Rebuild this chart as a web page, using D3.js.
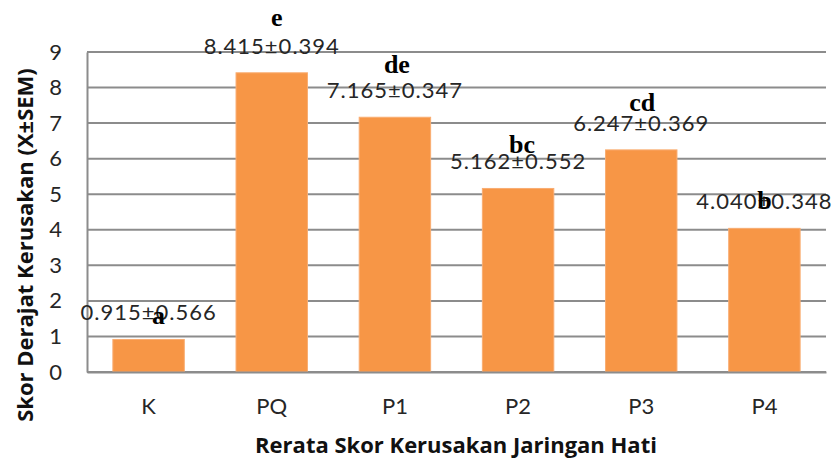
<!DOCTYPE html>
<html>
<head>
<meta charset="utf-8">
<script src="https://cdn.jsdelivr.net/npm/d3@7"></script>
<style>
  body { margin: 0; background: #fff; }
  svg { display: block; }
</style>
</head>
<body>
<div id="chart"></div>
<script>
// data
var groups = ["K", "PQ", "P1", "P2", "P3", "P4"];
var means = [0.915, 8.415, 7.165, 5.162, 6.247, 4.040];
var sems = [0.566, 0.394, 0.347, 0.552, 0.369, 0.348];
var letters = ["a", "e", "de", "bc", "cd", "b"];
var yTicks = [0, 1, 2, 3, 4, 5, 6, 7, 8, 9];

// where the significance letters sit relative to the value label (px)
var letterShift = [[10, 4], [5, -28], [2, -25], [4, -16], [1, -20], [0, 0]];

var W = 837, H = 461;
var margin = {top: 52, right: 11, bottom: 89, left: 87};
var width = W - margin.left - margin.right,
    height = H - margin.top - margin.bottom;

var svg = d3.select("#chart").append("svg")
  .attr("width", W)
  .attr("height", H);

var g = svg.append("g")
  .attr("transform", "translate(" + margin.left + "," + margin.top + ")");

var x = d3.scaleBand()
  .domain(groups)
  .range([0, width])
  .paddingInner(0.42)
  .paddingOuter(0.21);

var y = d3.scaleLinear()
  .domain([0, 9])
  .range([height, 0]);

// gridlines
g.selectAll("line.grid")
  .data(yTicks)
  .enter()
  .append("line")
    .attr("class", "grid")
    .attr("x1", 0)
    .attr("x2", width)
    .attr("y1", d => y(d))
    .attr("y2", d => y(d))
    .attr("stroke", "#8c8c8c")
    .attr("stroke-width", 2);

// y axis
var yAxis = g.append("g")
  .call(d3.axisLeft(y).tickValues(yTicks).tickSize(0).tickPadding(25));
yAxis.select(".domain").attr("stroke", "#8c8c8c").attr("stroke-width", 2);
yAxis.selectAll("text")
  .attr("font-family", "Lato, 'Open Sans', sans-serif")
  .attr("font-size", 22)
  .attr("fill", "#262626");

// bars
g.selectAll("rect")
  .data(groups)
  .enter()
  .append("rect")
    .attr("x", d => x(d))
    .attr("y", (d, i) => y(means[i]))
    .attr("width", x.bandwidth())
    .attr("height", (d, i) => height - y(means[i]))
    .attr("fill", "#f79646")
    .attr("stroke", "#f9ad72")
    .attr("stroke-width", 1);

// x axis
var xAxis = g.append("g")
  .attr("transform", "translate(0," + height + ")")
  .call(d3.axisBottom(x).tickSize(0).tickPadding(26));
xAxis.select(".domain").attr("stroke", "#8c8c8c").attr("stroke-width", 2);
xAxis.selectAll("text")
  .attr("font-family", "Lato, 'Open Sans', sans-serif")
  .attr("font-size", 22)
  .attr("fill", "#262626");

// value labels
g.selectAll("text.val")
  .data(groups)
  .enter()
  .append("text")
    .attr("class", "val")
    .attr("x", d => x(d) + x.bandwidth() / 2)
    .attr("y", (d, i) => y(means[i]) - 19)
    .attr("text-anchor", "middle")
    .attr("font-family", "Lato, 'Open Sans', sans-serif")
    .attr("font-size", 22)
    .attr("letter-spacing", 1)
    .attr("fill", "#262626")
    .text((d, i) => means[i].toFixed(3) + "\u00b1" + sems[i].toFixed(3));

// significance letters
g.selectAll("text.sig")
  .data(groups)
  .enter()
  .append("text")
    .attr("class", "sig")
    .attr("x", (d, i) => x(d) + x.bandwidth() / 2 + letterShift[i][0])
    .attr("y", (d, i) => y(means[i]) - 19 + letterShift[i][1])
    .attr("text-anchor", "middle")
    .attr("font-family", "'Liberation Serif', 'Times New Roman', serif")
    .attr("font-weight", "bold")
    .attr("font-size", 26)
    .attr("fill", "#000")
    .text((d, i) => letters[i]);

// axis titles
svg.append("text")
  .attr("x", 456)
  .attr("y", 453)
  .attr("text-anchor", "middle")
  .attr("font-family", "'Open Sans', Lato, sans-serif")
  .attr("font-weight", "bold")
  .attr("font-size", 22)
  .attr("fill", "#111")
  .text("Rerata Skor Kerusakan Jaringan Hati");

svg.append("text")
  .attr("transform", "translate(33,245) rotate(-90)")
  .attr("text-anchor", "middle")
  .attr("font-family", "'Open Sans', Lato, sans-serif")
  .attr("font-weight", "bold")
  .attr("font-size", 22)
  .attr("fill", "#111")
  .text("Skor Derajat Kerusakan (X\u00b1SEM)");
</script>
</body>
</html>
